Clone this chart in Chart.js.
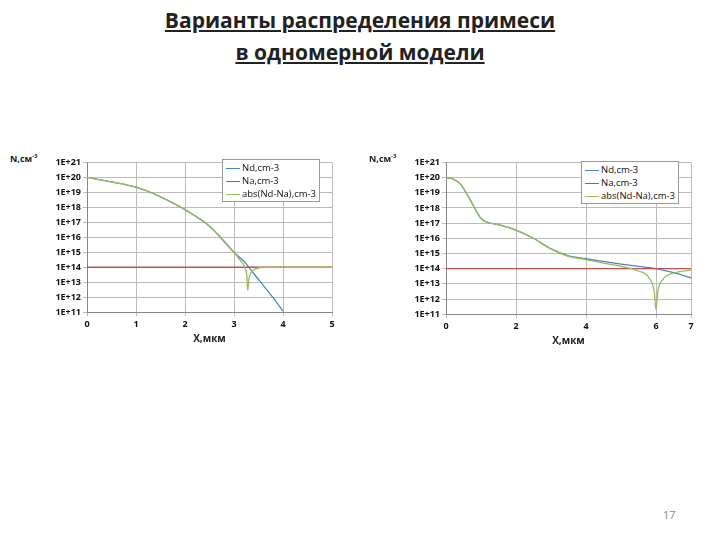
<!DOCTYPE html>
<html><head><meta charset="utf-8">
<script src="https://cdn.jsdelivr.net/npm/chart.js@4/dist/chart.umd.min.js"></script>
<style>
body{margin:0;width:720px;height:540px;background:#fff;font-family:"Open Sans",sans-serif;position:relative;overflow:hidden}
.title{position:absolute;left:0;width:720px;text-align:center;font-weight:bold;font-size:21px;text-decoration:underline;color:#222}
.c{position:absolute}
.lab{position:absolute;font-size:9px;font-weight:bold;color:#222}
.leg{position:absolute;border:1px solid #999;background:#fff;font-size:9.5px;padding:1px 3px;line-height:13px;color:#111}
.leg i{display:inline-block;width:14px;height:0;border-top:1.5px solid;vertical-align:middle;margin-right:2px}
</style></head><body>
<div class="title" style="top:6px">Варианты распределения примеси</div>
<div class="title" style="top:38px">в одномерной модели</div>
<canvas id="c1" class="c" style="left:40px;top:155px" width="300" height="190"></canvas>
<canvas id="c2" class="c" style="left:399px;top:155px" width="300" height="192"></canvas>
<div class="lab" style="left:10px;top:152px">N,см<sup style="font-size:6px">-3</sup></div>
<div class="lab" style="left:369px;top:152px">N,см<sup style="font-size:6px">-3</sup></div>
<div class="leg" style="left:222px;top:159px"><i style="color:#4a86c5"></i>Nd,cm-3<br><i style="color:#c0504d"></i>Na,cm-3<br><i style="color:#9bbb59"></i>abs(Nd-Na),cm-3</div>
<div class="leg" style="left:581px;top:161px"><i style="color:#4a86c5"></i>Nd,cm-3<br><i style="color:#c0504d"></i>Na,cm-3<br><i style="color:#9bbb59"></i>abs(Nd-Na),cm-3</div>
<div style="position:absolute;left:663px;top:507px;font-size:11px;color:#888">17</div>
<script>
// left chart
const x1Nd = [0,0.5,1,1.5,2,2.5,3,3.2,3.4,3.6,3.8,4];
const nd1 = [1e20,5e19,2.2e19,5e18,7e17,5.5e16,1e15,2.5e14,4e13,6e12,9e11,1.2e11];
const x1Na = [0,5];
const na1 = [1e14,1e14];
const x1Abs = [0,0.5,1,1.5,2,2.5,3,3.15,3.22,3.26,3.28,3.31,3.36,3.45,3.55,3.65,5];
const abs1 = [1e20,5e19,2.2e19,5e18,7e17,5.5e16,1e15,2.3e14,1e14,3e13,3e12,2e13,5e13,8e13,9.5e13,1e14,1e14];

// right chart
const x2Nd = [0,0.2,0.4,0.6,0.8,1,1.2,1.5,2,2.5,3,3.5,4,4.5,5,5.5,6,6.5,7];
const nd2 = [1e20,8e19,4e19,8e18,1.2e18,2e17,1.1e17,8e16,3.5e16,1e16,2e15,7e14,4.5e14,3e14,2e14,1.4e14,1e14,5.5e13,2.5e13];
const x2Na = [0,7];
const na2 = [1e14,1e14];
const x2Abs = [0,0.2,0.4,0.6,0.8,1,1.2,1.5,2,2.5,3,3.5,4,4.5,5,5.5,5.8,5.95,6,6.05,6.2,6.5,7];
const abs2 = [1e20,8e19,4e19,8e18,1.2e18,2e17,1.1e17,8e16,3.5e16,1e16,2e15,6.5e14,4e14,2.3e14,1.4e14,7e13,2.5e13,3e12,2e11,3e12,2e13,5e13,8e13];

const yTicks = [1e11,1e12,1e13,1e14,1e15,1e16,1e17,1e18,1e19,1e20,1e21];
const tickFont = {family:'"Open Sans"',size:9,weight:'bold'};

function pts(xs, ys){ return xs.map((x,i)=>({x:x,y:ys[i]})); }

function make(id, sets, xmax, xstep){
  new Chart(document.getElementById(id), {
    type:'line',
    data:{datasets:[
      {data:pts(sets[4],sets[5]),borderColor:'#9bbb59'},
      {data:pts(sets[2],sets[3]),borderColor:'#c0504d'},
      {data:pts(sets[0],sets[1]),borderColor:'#4a86c5'}
    ]},
    options:{
      responsive:false,animation:false,
      layout:{padding:{top:4,right:8}},
      elements:{point:{radius:0},line:{borderWidth:1.3,cubicInterpolationMode:'monotone'}},
      plugins:{legend:{display:false},tooltip:{enabled:false}},
      scales:{
        x:{type:'linear',min:0,max:xmax,
          ticks:{stepSize:xstep,font:tickFont,color:'#111'},
          grid:{color:'#bbb',tickLength:4},
          border:{color:'#888'},
          title:{display:true,text:'X,мкм',font:{family:'"Open Sans"',size:10,weight:'bold'},color:'#222',padding:0}},
        y:{type:'logarithmic',min:1e11,max:1e21,
          afterBuildTicks:s=>{s.ticks=yTicks.map(v=>({value:v}));},
          afterFit:s=>{s.width=47;},
          ticks:{autoSkip:false,font:tickFont,color:'#111',padding:2,callback:v=>'1E+'+Math.round(Math.log10(v))},
          grid:{color:'#bbb',tickLength:4},
          border:{color:'#888'}}
      }
    }
  });
}
make('c1',[x1Nd,nd1,x1Na,na1,x1Abs,abs1],5,1);
make('c2',[x2Nd,nd2,x2Na,na2,x2Abs,abs2],7,2);
</script>
</body></html>
